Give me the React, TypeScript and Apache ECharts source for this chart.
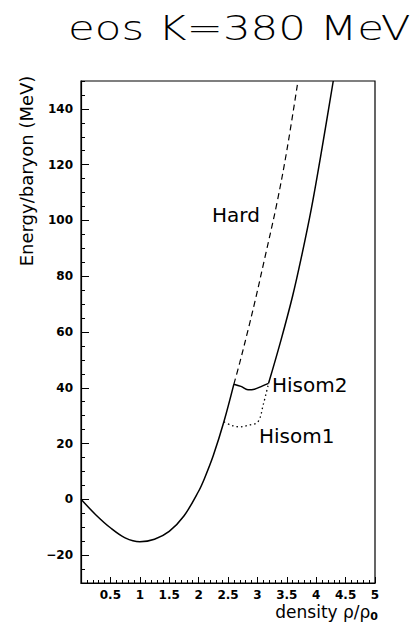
import React, { useEffect, useRef } from "react";
import * as echarts from "echarts";

// Ground-state branch (solid, shared by all EOS)
const lowDensity = [0, 0.25, 0.5, 0.75, 1.0, 1.25, 1.5, 1.75, 2.0, 2.1, 2.25, 2.43, 2.6];
const lowEnergy = [0, -5.5, -10.2, -13.8, -15.2, -14.3, -11.5, -6, 2.9, 7.5, 15.7, 27.8, 41.3];

// Hisom2 plateau (solid)
const hisom2Density = [2.6, 2.72, 2.84, 2.95, 3.08, 3.19];
const hisom2Energy = [41.3, 40.5, 39.3, 39.5, 40.6, 41.6];

// High-density branch (solid)
const highDensity = [3.19, 3.4, 3.6, 3.75, 3.92, 4.1, 4.29];
const highEnergy = [41.6, 57, 73, 87, 104.5, 126, 150];

// Hard EOS (dashed)
const hardDensity = [2.6, 2.7, 2.85, 2.97, 3.12, 3.33, 3.5, 3.69];
const hardEnergy = [41.3, 49, 61.5, 72, 86, 106, 125, 150];

// Hisom1 branch (dotted)
const hisom1Density = [2.43, 2.55, 2.7, 2.85, 3.01, 3.1, 3.19];
const hisom1Energy = [27.8, 26.6, 26, 26.6, 27.8, 34, 41.6];

// Axis tick labels
const xTickLabels = [0.5, 1, 1.5, 2, 2.5, 3, 3.5, 4, 4.5, 5];
const yTickLabels = [-20, 0, 20, 40, 60, 80, 100, 120, 140];
const yMinorTicks = Array.from({ length: 37 }, (_, i) => -30 + i * 5);

const pairs = (xs: number[], ys: number[]) => xs.map((x, i) => [x, ys[i]]);

export default function App() {
  const ref = useRef<HTMLDivElement>(null);
  useEffect(() => {
    if (!ref.current) return;
    const chart = echarts.init(ref.current, undefined, { renderer: "svg" });
    const black = "#000";
    const tickFont = { color: black, fontFamily: "DejaVu Sans", fontWeight: "bold" as const, fontSize: 12 };
    const solid = (data: number[][]) => ({
      type: "line",
      data,
      symbol: "none",
      smooth: 0.35,
      lineStyle: { color: black, width: 1.5, type: "solid" },
    });
    chart.setOption({
      animation: false,
      backgroundColor: "#fff",
      grid: { left: 81, right: 41, top: 81, bottom: 40, show: true, borderColor: black, borderWidth: 1.2, backgroundColor: "transparent" },
      xAxis: {
        type: "value",
        min: 0,
        max: 5,
        interval: 0.5,
        axisLine: { show: true, onZero: false, lineStyle: { color: black, width: 1.2 } },
        axisTick: { show: true, inside: true, length: 6, lineStyle: { color: black, width: 1 } },
        minorTick: { show: true, splitNumber: 5, length: 3, lineStyle: { color: black, width: 1 } },
        splitLine: { show: false },
        axisLabel: {
          ...tickFont,
          margin: 6,
          customValues: xTickLabels,
          formatter: (v: number) => String(v),
        },
      },
      yAxis: [
        {
          type: "value",
          min: -30,
          max: 150,
          axisLine: { show: true, onZero: false, lineStyle: { color: black, width: 1.2 } },
          axisTick: { show: true, inside: true, length: 8, customValues: yTickLabels, lineStyle: { color: black, width: 1 } },
          splitLine: { show: false },
          axisLabel: {
            ...tickFont,
            margin: 8,
            customValues: yTickLabels,
            formatter: (v: number) => String(v).replace("-", "\u2212"),
          },
        },
        {
          type: "value",
          min: -30,
          max: 150,
          position: "left",
          axisLine: { show: false },
          axisTick: { show: true, inside: true, length: 4, customValues: yMinorTicks, lineStyle: { color: black, width: 1 } },
          splitLine: { show: false },
          axisLabel: { show: false },
        },
      ],
      series: [
        solid(pairs(lowDensity, lowEnergy)),
        solid(pairs(hisom2Density, hisom2Energy)),
        solid(pairs(highDensity, highEnergy)),
        {
          type: "line",
          data: pairs(hardDensity, hardEnergy),
          symbol: "none",
          smooth: 0.35,
          lineStyle: { color: black, width: 1.2, type: [6, 4] },
        },
        {
          type: "line",
          data: pairs(hisom1Density, hisom1Energy),
          symbol: "none",
          smooth: 0.35,
          lineStyle: { color: black, width: 1.3, type: [1.5, 3] },
        },
      ],
      graphic: [
        {
          type: "text",
          x: 68,
          y: 28,
          scaleX: 1.28,
          style: { text: "eos K=380 MeV", x: 0, y: 0, fontFamily: "DejaVu Sans", fontWeight: 200, fontSize: 34, fill: black, textAlign: "left", textVerticalAlign: "middle" },
        },
        {
          type: "text",
          x: 26,
          y: 171,
          rotation: Math.PI / 2,
          style: { text: "Energy/baryon (MeV)", x: 0, y: 0, fontFamily: "DejaVu Sans", fontSize: 18, fill: black, textAlign: "center", textVerticalAlign: "middle" },
        },
        {
          type: "text",
          x: 378,
          y: 612,
          style: {
            text: "{a|density ρ/ρ}{b|0}",
            x: 0,
            y: 0,
            textAlign: "right",
            textVerticalAlign: "middle",
            rich: {
              a: { fontFamily: "DejaVu Sans", fontSize: 17, fill: black },
              b: { fontFamily: "DejaVu Sans", fontSize: 11, fontWeight: "bold", fill: black, padding: [8, 0, 0, 0] },
            },
          },
        },
        {
          type: "text",
          x: 212,
          y: 215,
          style: { text: "Hard", x: 0, y: 0, fontFamily: "DejaVu Sans", fontSize: 20, fill: black, textAlign: "left", textVerticalAlign: "middle" },
        },
        {
          type: "text",
          x: 272,
          y: 385,
          style: { text: "Hisom2", x: 0, y: 0, fontFamily: "DejaVu Sans", fontSize: 20, fill: black, textAlign: "left", textVerticalAlign: "middle" },
        },
        {
          type: "text",
          x: 259,
          y: 436,
          style: { text: "Hisom1", x: 0, y: 0, fontFamily: "DejaVu Sans", fontSize: 20, fill: black, textAlign: "left", textVerticalAlign: "middle" },
        },
      ],
    });
    return () => chart.dispose();
  }, []);
  return <div ref={ref} style={{ position: "fixed", left: 0, top: 0, width: 416, height: 623 }} />;
}
